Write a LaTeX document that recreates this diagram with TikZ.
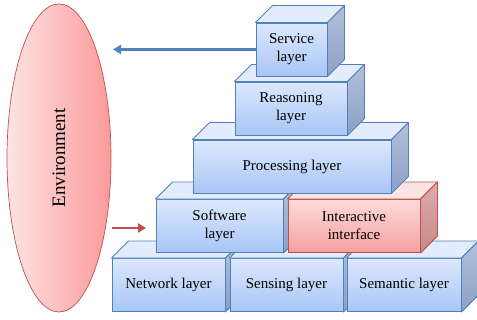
\documentclass[tikz,border=0pt]{standalone}
\usepackage{fontspec}
\setmainfont{Liberation Serif}
\usetikzlibrary{shapes.geometric,arrows.meta}

\begin{document}
\begin{tikzpicture}[x=1pt,y=1pt,
  layer/.style={draw=\tone line,line width=0.9pt,minimum height=53pt,inner sep=0pt,
    align=center,font=\fontsize{15}{18}\selectfont,
    top color=\tone front,bottom color=\tone frontd},
  flowarrow/.style={line width=2.6pt,-{Triangle[length=8pt,width=9pt]}}]
  \definecolor{bfront}{RGB}{220,232,252}
  \definecolor{bfrontd}{RGB}{168,198,246}
  \definecolor{bside}{RGB}{178,192,218}
  \definecolor{bsided}{RGB}{140,160,198}
  \definecolor{btop}{RGB}{226,236,252}
  \definecolor{bline}{RGB}{79,129,189}
  \definecolor{rfront}{RGB}{252,218,218}
  \definecolor{rfrontd}{RGB}{245,160,160}
  \definecolor{rside}{RGB}{222,172,172}
  \definecolor{rsided}{RGB}{200,136,136}
  \definecolor{rtop}{RGB}{253,228,228}
  \definecolor{rline}{RGB}{192,80,77}
  \definecolor{envdark}{RGB}{252,154,154}
  \useasboundingbox (0,0) rectangle (477,320);
  % environment
  \node[ellipse,draw=rline,line width=0.7pt,rotate=90,minimum width=308pt,minimum height=104pt,
    left color=rtop,right color=envdark,font=\fontsize{19}{22}\selectfont]
    (env) at (59,162) {Environment};
  % layers, bottom row first
  \foreach \name/\cx/\cy/\w/\tone/\txt in {
      network/168.5/35/113/b/{Network layer},
      sensing/286.5/35/113/b/{Sensing layer},
      semantic/404/35/114/b/{Semantic layer},
      software/219.5/94/127/b/{Software\\layer},
      interface/354/94/132/r/{Interactive\\interface},
      processing/292/153.5/198/b/{Processing layer},
      reasoning/291/211.5/112/b/{Reasoning\\layer},
      service/291.5/270.5/71/b/{Service\\layer}}{%
    \node[layer,minimum width=\w pt] (\name) at (\cx,\cy) {\txt};
    \filldraw[draw=\tone line,line width=0.9pt,fill=\tone top,line join=round]
      (\name.north west) -- ++(17,17) -- ([shift={(17,17)}]\name.north east)
      -- (\name.north east) -- cycle;
    \filldraw[draw=\tone line,line width=0.9pt,top color=\tone side,bottom color=\tone sided,line join=round]
      (\name.north east) -- ++(17,17) -- ([shift={(17,17)}]\name.south east)
      -- (\name.south east) -- cycle;
  }
  % arrows
  \coordinate (outtip) at (113,270.5);
  \coordinate (infrom) at (112,92);
  \coordinate (intip) at (146,92);
  \draw[flowarrow,bline] (service.west) -- (outtip);
  \draw[flowarrow,rline] (infrom) -- (intip);
\end{tikzpicture}
\end{document}
